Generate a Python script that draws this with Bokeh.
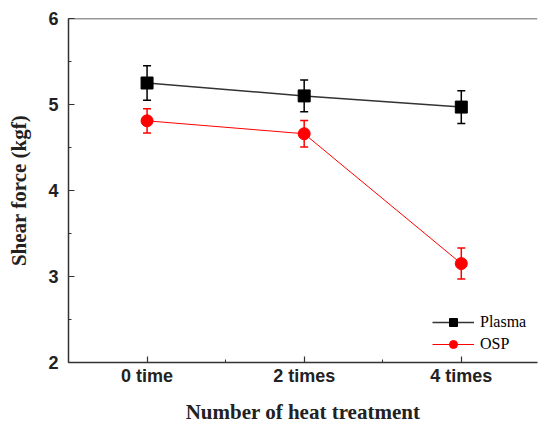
from bokeh.plotting import figure
from bokeh.models import (ColumnDataSource, FixedTicker, SingleIntervalTicker, Whisker, TeeHead,
                          Span, Legend, LegendItem, Range1d)
from bokeh.embed import file_html
from bokeh.resources import INLINE

# ---- data ----
treatments = [0, 2, 4]
tick_labels = ["0 time", "2 times", "4 times"]
plasma = [5.25, 5.10, 4.97]
plasma_err = [0.20, 0.185, 0.19]
osp = [4.81, 4.66, 3.15]
osp_err = [0.14, 0.155, 0.18]

def src(vals, errs):
    return ColumnDataSource(dict(
        x=treatments, y=vals,
        lo=[v - e for v, e in zip(vals, errs)],
        hi=[v + e for v, e in zip(vals, errs)]))

s_pl = src(plasma, plasma_err)
s_os = src(osp, osp_err)

p = figure(width=538, height=426, output_backend="svg", toolbar_location=None,
           x_range=Range1d(-1, 4.97), y_range=Range1d(2, 6),
           min_border_left=68, min_border_top=18, min_border_bottom=63, min_border_right=1)
p.outline_line_color = None
p.grid.grid_line_color = None
p.background_fill_color = "white"
p.border_fill_color = "white"

AX = "#333333"
# top border
p.add_layout(Span(location=6, dimension="width", line_color=AX, line_width=1.5))

# errors
for s, c in [(s_pl, "black"), (s_os, "red")]:
    w = Whisker(source=s, base="x", lower="lo", upper="hi", line_color=c, line_width=1.5,
                lower_head=TeeHead(size=8, line_color=c, line_width=1.5),
                upper_head=TeeHead(size=8, line_color=c, line_width=1.5))
    p.add_layout(w)

l1 = p.line("x", "y", source=s_pl, line_color="#333333", line_width=1.5)
m1 = p.scatter("x", "y", source=s_pl, marker="square", size=12, fill_color="black", line_color="black")
l2 = p.line("x", "y", source=s_os, line_color="red", line_width=1)
m2 = p.scatter("x", "y", source=s_os, marker="circle", size=12, fill_color="red", line_color="red")

# axes
xa = p.xaxis[0]
xa.ticker = FixedTicker(ticks=treatments, minor_ticks=[1, 3])
xa.major_label_overrides = {t: l for t, l in zip(treatments, tick_labels)}
ya = p.yaxis[0]
ya.ticker = SingleIntervalTicker(interval=1, num_minor_ticks=2)

for ax in (xa, ya):
    ax.axis_line_color = AX
    ax.axis_line_width = 1.5
    ax.major_tick_line_color = AX
    ax.minor_tick_line_color = AX
    ax.major_tick_line_width = 1.2
    ax.minor_tick_line_width = 1
    ax.major_tick_out = 0
    ax.major_tick_in = 6
    ax.minor_tick_out = 0
    ax.minor_tick_in = 3
    ax.major_label_text_font = "Liberation Sans"
    ax.major_label_text_font_style = "bold"
    ax.major_label_text_font_size = "18px"
    ax.major_label_text_color = "#222222"
    ax.axis_label_text_font = "Liberation Serif"
    ax.axis_label_text_font_style = "bold"
    ax.axis_label_text_color = "#222222"

xa.axis_label = "Number of heat treatment"
xa.axis_label_text_font_size = "21px"
xa.major_label_standoff = 3
xa.axis_label_standoff = 11
ya.axis_label = "Shear force (kgf)"
ya.axis_label_text_font_size = "21px"
ya.major_label_standoff = 10
ya.axis_label_standoff = 14

legend = Legend(items=[LegendItem(label="Plasma", renderers=[l1, m1]),
                       LegendItem(label="OSP", renderers=[l2, m2])],
                location=(364, 8), padding=0, margin=0, spacing=2,
                glyph_width=42, glyph_height=20, label_height=20, label_standoff=6,
                label_text_font="Liberation Serif", label_text_font_size="16px",
                label_text_color="#000000",
                background_fill_alpha=0, border_line_color=None)
p.add_layout(legend)

open("out.html", "w").write(file_html(p, INLINE))
